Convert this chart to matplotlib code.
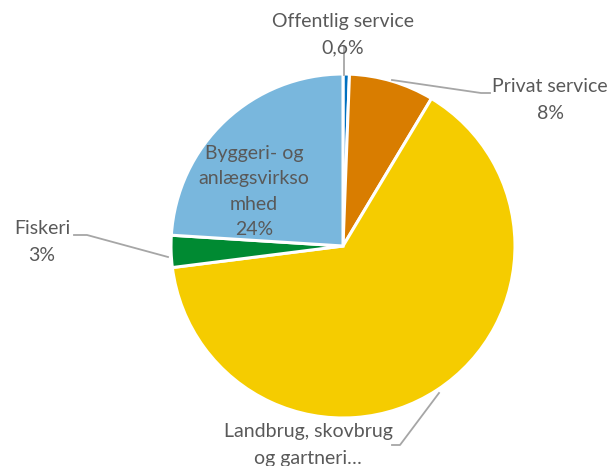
import matplotlib.pyplot as plt

# andel fordelt på erhverv
labels = ["Offentlig service", "Privat service", "Landbrug, skovbrug og gartneri", "Fiskeri",
          "Byggeri- og anlægsvirksomhed"]
values = [0.6, 8, 64.4, 3, 24]
pct_text = ["0,6%", "8%", "", "3%", "24%"]
colors = ["#0070C0", "#D97D00", "#F5CC00", "#008A32", "#79B7DD"]

W, H = 610, 466
fig = plt.figure(figsize=(W / 100, H / 100), dpi=100)
ax = fig.add_axes([0, 0, 1, 1])

plt.rcParams["font.family"] = ["Lato", "DejaVu Sans"]
txt_col = "#595959"
line_col = "#A6A6A6"
fs = 14


def py(y):
    # pixelkoordinat fra toppen -> data y
    return H - y


ax.pie(values, colors=colors, startangle=90, counterclock=False,
       center=(343, py(246)), radius=172, frame=True,
       wedgeprops=dict(edgecolor="white", linewidth=2.2))
ax.set_xlim(0, W)
ax.set_ylim(0, H)
ax.set_aspect("equal")
ax.axis("off")


def leader(pts):
    xs = [p[0] for p in pts]
    ys = [py(p[1]) for p in pts]
    ax.plot(xs, ys, color=line_col, lw=1.3, zorder=5)


def label(x, y, lines, dy=26.5):
    for i, s in enumerate(lines):
        ax.text(x, py(y + i * dy), s, ha="center", va="center",
                fontsize=fs, color=txt_col, zorder=6)


# Offentlig service
leader([(344, 75), (344, 47)])
label(343, 21, [labels[0], pct_text[0]])

# Privat service
leader([(392, 80), (481, 93), (490, 93)])
label(550, 87, [labels[1], pct_text[1]])

# Fiskeri
leader([(74, 235), (87, 235), (168, 257)])
label(42, 229, [labels[3], pct_text[3]])

# Landbrug
leader([(439, 393), (400, 445), (392, 445)])
label(308, 432, ["Landbrug, skovbrug", "og gartneri…"])

# Byggeri, inde i lagkagestykket
label(254, 153, ["Byggeri- og", "anlægsvirkso", "mhed", pct_text[4]], dy=25.5)

fig.savefig("out.png", dpi=100)
